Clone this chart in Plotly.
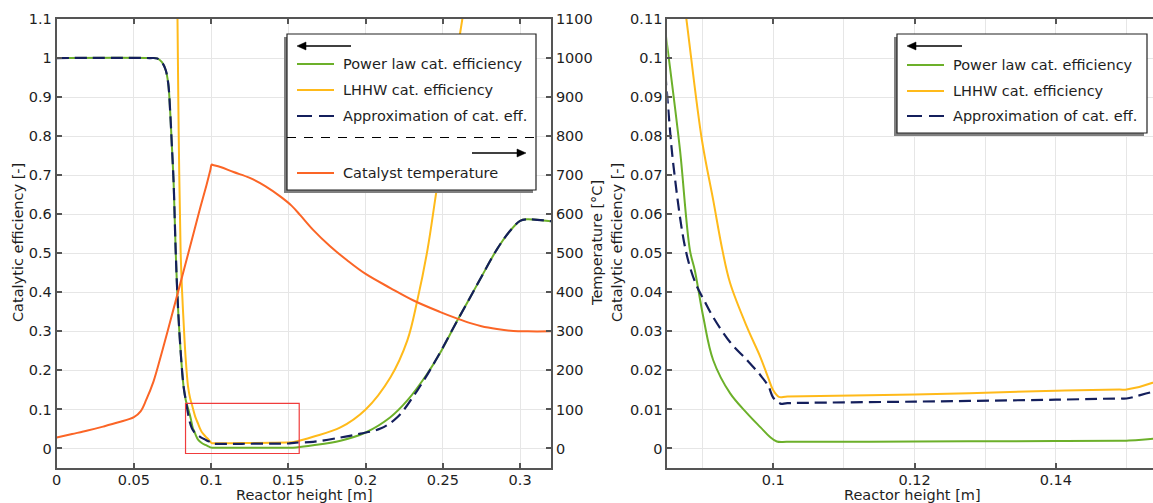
import plotly.graph_objects as go

# ---------------- data ----------------
# Reactor height [m] and catalytic efficiency [-] for each model
x_power = [0.000, 0.060, 0.065, 0.068, 0.0705, 0.0722, 0.0735, 0.0745, 0.0757, 0.0770, 0.0783,
           0.0802, 0.0821, 0.0835, 0.0850, 0.0857, 0.0868, 0.0882, 0.0889, 0.0901, 0.0915,
           0.0939, 0.0963, 0.0982, 0.0995, 0.1005, 0.1020, 0.1200, 0.1400, 0.1490, 0.1500,
           0.1550, 0.1660, 0.1837, 0.2000, 0.2160, 0.2270, 0.2400, 0.2480, 0.2590, 0.2678,
           0.2750, 0.2850, 0.2930, 0.3000, 0.3040, 0.3200]
y_power = [1.000, 1.000, 0.999, 0.990, 0.970, 0.935, 0.860, 0.780, 0.680, 0.510, 0.380,
           0.251, 0.160, 0.125, 0.103, 0.093, 0.0764, 0.0508, 0.0456, 0.0336, 0.0226,
           0.0141, 0.0090, 0.0054, 0.0030, 0.0018, 0.0017, 0.0018, 0.0019, 0.0020, 0.0020,
           0.0028, 0.008, 0.020, 0.041, 0.080, 0.123, 0.192, 0.243, 0.325, 0.388,
           0.440, 0.510, 0.555, 0.583, 0.587, 0.582]

x_approx = [0.000, 0.060, 0.065, 0.068, 0.0705, 0.0722, 0.0735, 0.0745, 0.0757, 0.0770, 0.0783,
            0.0802, 0.0821, 0.0835, 0.0850, 0.0859, 0.0876, 0.0890, 0.0902, 0.0915, 0.0939,
            0.0963, 0.0982, 0.0993, 0.1000, 0.1010, 0.1020, 0.1200, 0.1400, 0.1490, 0.1500,
            0.1550, 0.1660, 0.1837, 0.1966, 0.2096, 0.2205, 0.2335, 0.2464, 0.2590, 0.2678,
            0.2750, 0.2850, 0.2930, 0.3000, 0.3040, 0.3200]
y_approx = [1.000, 1.000, 0.999, 0.990, 0.970, 0.935, 0.860, 0.780, 0.680, 0.510, 0.380,
            0.251, 0.160, 0.125, 0.090, 0.072, 0.0508, 0.0423, 0.0380, 0.0336, 0.0272,
            0.0226, 0.0187, 0.0160, 0.0130, 0.0115, 0.0116, 0.0120, 0.0125, 0.0128, 0.0128,
            0.0150, 0.017, 0.028, 0.038, 0.051, 0.080, 0.149, 0.233, 0.325, 0.388,
            0.440, 0.510, 0.555, 0.583, 0.587, 0.582]

x_lhhw = [0.0775, 0.0782, 0.0790, 0.0802, 0.0812, 0.0822, 0.0835, 0.0850, 0.0863, 0.0877,
          0.0899, 0.0915, 0.0928, 0.0939, 0.0963, 0.0982, 0.0993, 0.1000, 0.1008, 0.1020,
          0.1200, 0.1400, 0.1490, 0.1500, 0.1550, 0.1660, 0.1837, 0.2000, 0.2160, 0.2270,
          0.2335, 0.2400, 0.2451, 0.2500, 0.2546, 0.2626, 0.2700]
y_lhhw = [1.300, 1.100, 0.800, 0.510, 0.400, 0.320, 0.230, 0.160, 0.130, 0.110,
          0.079, 0.0636, 0.0508, 0.0423, 0.0310, 0.0233, 0.0180, 0.0149, 0.0132, 0.0133,
          0.0138, 0.0148, 0.0151, 0.0151, 0.0178, 0.030, 0.054, 0.100, 0.182, 0.277,
          0.380, 0.508, 0.640, 0.770, 0.900, 1.100, 1.300]

# Catalyst temperature [degC]
x_temp = [0.000, 0.010, 0.020, 0.030, 0.040, 0.050, 0.0543, 0.0580, 0.0627, 0.0673, 0.0718,
          0.0787, 0.0886, 0.0931, 0.0970, 0.0995, 0.1003, 0.1012, 0.1060, 0.1145, 0.1250,
          0.1350, 0.1449, 0.1520, 0.1578, 0.1660, 0.1770, 0.1880, 0.2000, 0.2160, 0.2310,
          0.2480, 0.2598, 0.2678, 0.2750, 0.2850, 0.2956, 0.3050, 0.3200]
y_temp = [28, 37, 46, 56, 67, 80, 95, 125, 172, 235, 300,
          403, 551, 619, 675, 714, 727, 726, 721, 708, 693,
          672, 645, 622, 597, 560, 518, 482, 447, 411, 379,
          350, 332, 321, 313, 306, 301, 300, 300]

# zoom window marked on the overview plot
zoom_box_x = [0.0834, 0.1570]
zoom_box_y = [-0.0128, 0.1154]

legend_labels = ["Power law cat. efficiency", "LHHW cat. efficiency", "Approximation of cat. eff."]
temp_label = "Catalyst temperature"
x_title = "Reactor height [m]"
eff_title = "Catalytic efficiency [-]"
temp_title = "Temperature [°C]"

# ---------------- styling ----------------
W, H = 1153, 503
FONT = "DejaVu Sans"
FS = 14.5
TXT = "#1e1e1e"
AX = "#555555"
GRID = "#e6e6e6"
C_POWER = "#6cb02a"
C_LHHW = "#ffba1a"
C_APPROX = "#141f5c"
C_TEMP = "#fb6526"
SMOOTH = 1.0


def px(v):
    return v / W


def py(v):
    return 1 - v / H


def curve(width, color, dash=None):
    ln = dict(color=color, width=width, shape="spline", smoothing=SMOOTH)
    if dash:
        ln["dash"] = dash
    return ln


fig = go.Figure()

for xa, ya in (("x", "y"), ("x2", "y3")):
    fig.add_trace(go.Scatter(x=x_power, y=y_power, mode="lines", xaxis=xa, yaxis=ya,
                             line=curve(2, C_POWER), showlegend=False))
    fig.add_trace(go.Scatter(x=x_lhhw, y=y_lhhw, mode="lines", xaxis=xa, yaxis=ya,
                             line=curve(2, C_LHHW), showlegend=False))
    fig.add_trace(go.Scatter(x=x_approx, y=y_approx, mode="lines", xaxis=xa, yaxis=ya,
                             line=curve(2.2, C_APPROX, "12px,6px"), showlegend=False))

fig.add_trace(go.Scatter(x=x_temp, y=y_temp, mode="lines", xaxis="x", yaxis="y2",
                         line=curve(2, C_TEMP), showlegend=False))

tick_font = dict(family=FONT, size=FS, color=TXT)
common = dict(showline=True, linecolor=AX, linewidth=2, ticks="inside", ticklen=5,
              tickwidth=1.5, tickcolor=AX, showgrid=True, gridcolor=GRID, gridwidth=1,
              zeroline=False, tickfont=tick_font, automargin=False)

x1_dom = [px(56.7), px(551)]
x2_dom = [px(667.3), 1.0]
y_dom = [py(468), py(19)]

temp_axis = dict(common)
temp_axis["showgrid"] = False

fig.update_layout(
    template="none",
    width=W, height=H,
    margin=dict(l=0, r=0, t=0, b=0, pad=0),
    paper_bgcolor="white", plot_bgcolor="white",
    font=dict(family=FONT, size=FS, color=TXT),
    showlegend=False,
    xaxis=dict(domain=x1_dom, range=[0, 0.32], dtick=0.05, tick0=0, mirror="ticks",
               anchor="y", ticklabelstandoff=-2, **common),
    yaxis=dict(domain=y_dom, range=[-0.05, 1.1], dtick=0.1, tick0=0, anchor="x", **common),
    yaxis2=dict(overlaying="y", side="right", anchor="x", range=[-50, 1100], dtick=100,
                tick0=0, **temp_axis),
    xaxis2=dict(domain=x2_dom, range=[0.085, 0.085 + (W - 667.3) / 7065], dtick=0.02, tick0=0,
                mirror="ticks", anchor="y3", ticklabelstandoff=-2,
                minor=dict(dtick=0.01, tick0=0, showgrid=True, gridcolor=GRID, ticks=""),
                **common),
    yaxis3=dict(domain=y_dom, range=[-0.005, 0.11], dtick=0.01, tick0=0, anchor="x2", **common),
)

shapes = []
annotations = []

# zoom window on the overview
shapes.append(dict(type="rect", xref="x", yref="y", x0=zoom_box_x[0], x1=zoom_box_x[1],
                   y0=zoom_box_y[0], y1=zoom_box_y[1], line=dict(color="#f03c3c", width=1.2)))

# axis titles
for text, x, y, ang in ((eff_title, 18, 243, -90), (temp_title, 597, 243, -90),
                        (eff_title, 617, 243, -90), (x_title, 304, 495, 0),
                        (x_title, 912, 495, 0)):
    annotations.append(dict(text=text, xref="paper", yref="paper", x=px(x), y=py(y),
                            showarrow=False, textangle=ang, xanchor="center", yanchor="middle",
                            font=dict(family=FONT, size=FS, color=TXT)))


def arrow(x_head, x_tail, y):
    d = 1 if x_tail > x_head else -1
    shapes.append(dict(type="line", xref="paper", yref="paper", x0=px(x_head + d * 6),
                       x1=px(x_tail), y0=py(y), y1=py(y), line=dict(color="black", width=1.6)))
    path = "M {} {} L {} {} L {} {} Z".format(px(x_head), py(y), px(x_head + d * 9), py(y - 4),
                                              px(x_head + d * 9), py(y + 4))
    shapes.append(dict(type="path", xref="paper", yref="paper", path=path,
                       fillcolor="black", line=dict(color="black", width=0.5)))


def legend_box(x0, y0, x1, y1):
    shapes.append(dict(type="rect", xref="paper", yref="paper", x0=px(x0 - 3), x1=px(x1 - 3),
                       y0=py(y1 + 3), y1=py(y0 + 3), fillcolor="#808080",
                       line=dict(width=0)))
    shapes.append(dict(type="rect", xref="paper", yref="paper", x0=px(x0), x1=px(x1),
                       y0=py(y1), y1=py(y0), fillcolor="white",
                       line=dict(color="#222222", width=1.2)))


def legend_row(xs, xe, xt, y, color, label, dash=None):
    ln = dict(color=color, width=2.2)
    if dash:
        ln["dash"] = dash
    shapes.append(dict(type="line", xref="paper", yref="paper", x0=px(xs), x1=px(xe),
                       y0=py(y), y1=py(y), line=ln))
    annotations.append(dict(text=label, xref="paper", yref="paper", x=px(xt), y=py(y),
                            showarrow=False, xanchor="left", yanchor="middle",
                            font=dict(family=FONT, size=FS, color=TXT)))


series_colors = [(C_POWER, None), (C_LHHW, None), (C_APPROX, "15px,7px")]

# legend of the overview plot
legend_box(287, 34, 536, 190)
arrow(297, 351, 46)
for (col, dsh), lab, yy in zip(series_colors, legend_labels, (64, 90, 116)):
    legend_row(297, 334, 341, yy, col, lab, dsh)
shapes.append(dict(type="line", xref="paper", yref="paper", x0=px(287), x1=px(536),
                   y0=py(137.5), y1=py(137.5), line=dict(color="black", width=1, dash="9px,8px")))
arrow(526, 472, 153)
legend_row(297, 334, 341, 173, C_TEMP, temp_label)

# legend of the zoomed plot
legend_box(897, 34, 1147, 133)
arrow(907, 962, 46)
for (col, dsh), lab, yy in zip(series_colors, legend_labels, (65, 91, 116)):
    legend_row(907, 944, 951, yy, col, lab, dsh)

fig.update_layout(shapes=shapes, annotations=annotations)

fig.write_html("out.html")
